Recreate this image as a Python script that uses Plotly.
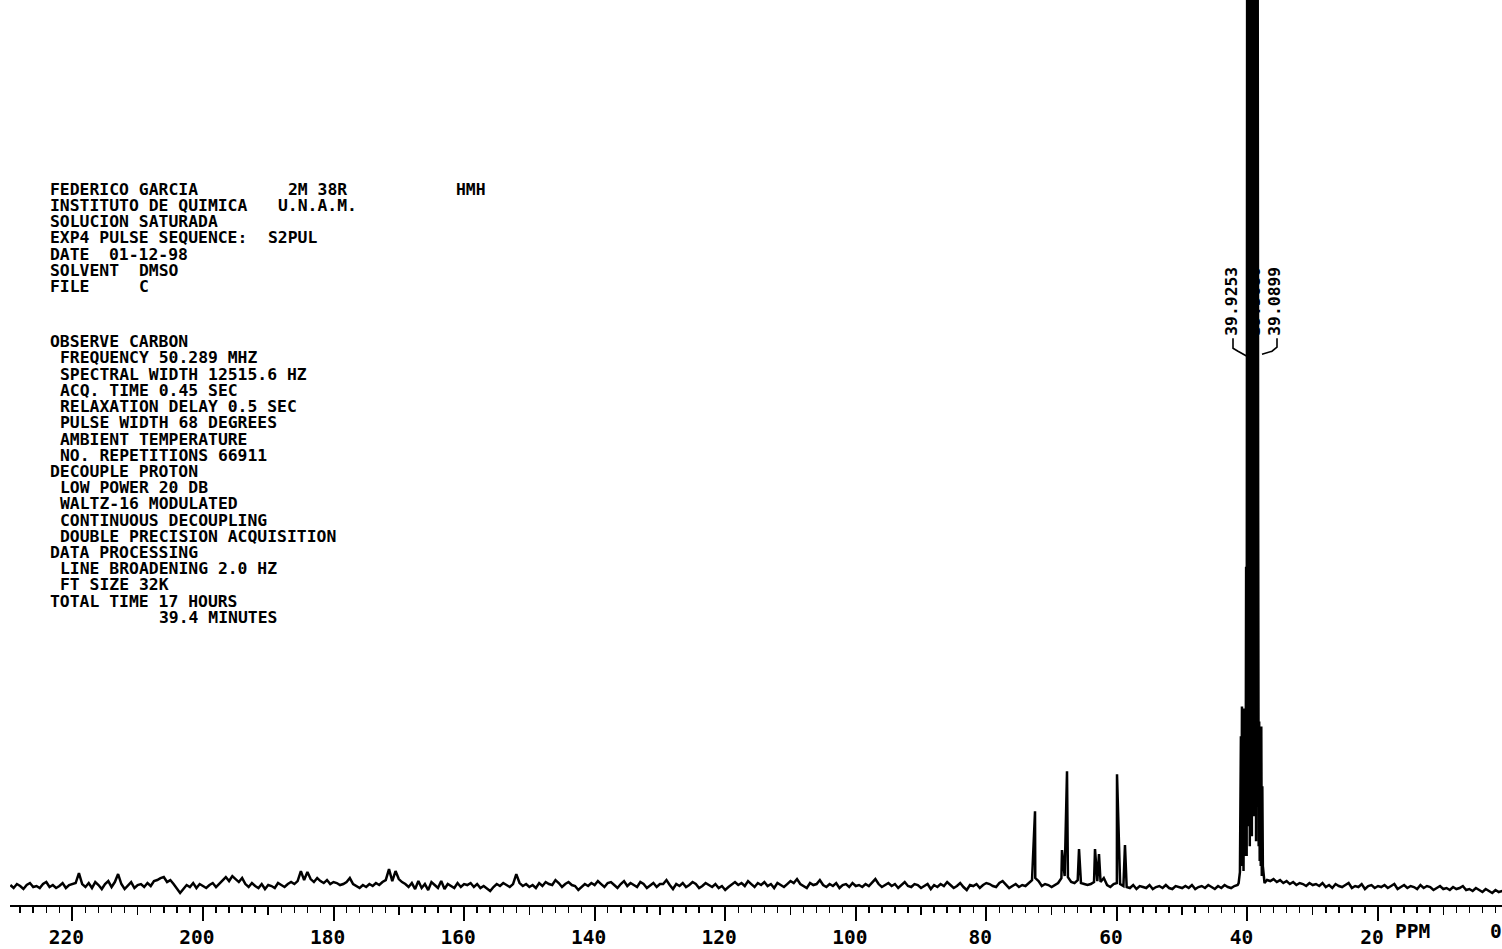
import re
import plotly.graph_objects as go

# ---------------- data ----------------
# baseline trace sampled every 0.5 ppm starting at 229.5 ppm (intensity, arbitrary units)
BASE_START = 229.5
BASE_STEP = 0.5
baseline_rows = [
    [1, -2, 2, 0, -3, 1, 3, -1, 0, -2, 2, 4, -1, 1, -2, 0, 3, -2, 1, 2],
    [3, 13, 2, -1, 3, -2, 4, 1, -3, 2, 5, -1, 4, 12, 2, -3, 1, 4, -2, 1],
    [2, -1, 3, 0, 5, 6, 8, 9, 4, 6, 2, -2, -7, -3, 1, -1, 3, -2, 2, 0],
    [-2, 1, 3, -1, 2, 6, 9, 5, 10, 7, 4, 8, 2, -1, 3, 0, -2, 2, -3, 1],
    [0, -2, 3, 1, -1, 2, 4, 2, 5, 15, 6, 14, 7, 4, 8, 5, 3, 6, 2, 4],
    [3, 1, 2, 4, 8, 2, 0, -2, 1, -1, 2, 0, 3, 1, 4, 6, 17, 5, 15, 7],
    [4, 2, -1, 3, -3, 5, -2, 2, -4, 4, 1, -2, 5, -3, 2, 0, -2, 3, -1, 2],
    [1, 3, -1, 2, -2, 0, -3, -5, -1, 2, 0, 3, 1, -1, 2, 12, 3, 0, 2, -1],
    [1, -2, 3, 0, 4, 2, 1, 6, 3, -1, 2, 4, 1, 0, -4, -1, 2, 0, 3, 1],
    [5, 2, -1, 3, 4, 1, -2, 2, 5, 0, 3, 1, -1, 4, 2, -2, 1, 3, -1, 2],
    [2, 6, 1, -3, 2, 0, 3, -1, 1, 4, 2, -2, 0, 3, 1, -1, 2, -2, 0, -4],
    [-1, 2, 4, 1, 3, 0, 5, 2, -1, 3, 1, 4, 0, 2, -2, 3, 1, -1, 2, 5],
    [3, 7, 2, 0, -2, 3, 1, 2, 6, 1, -1, 2, 0, 3, -2, 1, 2, -1, 3, 0],
    [1, -1, 2, 0, 3, 7, 2, -1, 1, 3, 0, 2, -2, 1, 4, 0, -1, 2, 1, -2],
    [0, 2, -3, 1, -1, 2, 0, 4, 1, -2, 0, 3, -1, -4, 1, 0, 2, -2, 1, 3],
    [2, 0, -1, 3, 5, 1, -2, 0, 2, -1, 1, 0, 3, 6, 8, 5, 0, 2, 1, -1],
    [1, 3, 8, 10, 9, 4, 3, 6, 3, 2, 1, 2, 4, 5, 4, 8, 1, -1, 2, 3],
    [2, 0, -1, -2, 1, -3, 0, -1, -2, 1, -3, -1, 0, -2, 1, -2, -3, 0, -1, -2],
    [0, -2, 1, -3, -1, 0, -2, 1, -1, -3, 0, -2, 1, -1, -2, 0, 1, -1, 0, 2],
    [0, 0, 0, 0, 0, 6, 5, 7, 4, 6, 3, 5, 2, 4, 1, 3, 2, 0, 3, 1],
    [2, 0, 3, -1, 1, -2, 2, 0, -1, 1, 3, -2, 0, -1, 2, -3, 0, 1, -2, 0],
    [-1, 1, -2, 0, 2, -3, -1, 1, -2, 0, -1, -3, 1, -2, 0, -1, -4, -2, 0, -3],
    [-2, -4, -1, -3, -2, 0, -4, -3, -5, -2, -4, -6, -3, -5, -7, -4, -6, -5, -7, -6],
]

# sharp sample peaks
peak_ppm = [72.54, 68.41, 67.64, 65.80, 63.35, 62.74, 59.98, 58.76]
peak_height = [75, 36, 115, 37, 37, 32, 112, 41]

# DMSO-d6 solvent multiplet: the recorder pen runs up and down (and off the top)
dmso_ppm = [41.35, 41.15, 41.00, 40.92, 40.84, 40.76, 40.68, 40.60, 40.52, 40.44,
            40.36, 40.28, 40.20, 40.12,
            40.04, 39.96, 39.88, 39.80, 39.72, 39.64, 39.56, 39.48, 39.40, 39.32,
            39.24, 39.16, 39.08, 39.00, 38.92, 38.84, 38.76, 38.68, 38.60, 38.52,
            38.44, 38.36,
            38.28, 38.20, 38.12, 38.04, 37.96, 37.88, 37.80, 37.72, 37.64, 37.52, 37.38]
dmso_height = [3, 14, 150, 20, 180, 25, 170, 15, 178, 30,
               172, 40, 320, 30,
               1000, 60, 1000, 110, 1000, 40, 1000, 90, 1000, 50,
               1000, 130, 1000, 70, 1000, 100, 1000, 45, 1000, 80,
               1000, 380,
               40, 165, 25, 150, 20, 160, 10, 100, 20, 6, 3]

peak_labels = ["39.9253", "39.5080", "39.0899"]

tick_values = [220, 200, 180, 160, 140, 120, 100, 80, 60, 40, 20]
tick_labels = ["220", "200", "180", "160", "140", "120", "100", "80", "60", "40", "20"]
mid_tick_values = [210, 190, 170, 150, 130, 110, 90, 70, 50, 30, 10]

header_lines = [
    "FEDERICO GARCIA         2M 38R           HMH",
    "INSTITUTO DE QUIMICA   U.N.A.M.",
    "SOLUCION SATURADA",
    "EXP4 PULSE SEQUENCE:  S2PUL",
    "DATE  01-12-98",
    "SOLVENT  DMSO",
    "FILE     C",
]
param_lines = [
    "OBSERVE CARBON",
    " FREQUENCY 50.289 MHZ",
    " SPECTRAL WIDTH 12515.6 HZ",
    " ACQ. TIME 0.45 SEC",
    " RELAXATION DELAY 0.5 SEC",
    " PULSE WIDTH 68 DEGREES",
    " AMBIENT TEMPERATURE",
    " NO. REPETITIONS 66911",
    "DECOUPLE PROTON",
    " LOW POWER 20 DB",
    " WALTZ-16 MODULATED",
    " CONTINUOUS DECOUPLING",
    " DOUBLE PRECISION ACQUISITION",
    "DATA PROCESSING",
    " LINE BROADENING 2.0 HZ",
    " FT SIZE 32K",
    "TOTAL TIME 17 HOURS",
    "           39.4 MINUTES",
]

# ---------------- build trace ----------------
baseline_values = [v for row in baseline_rows for v in row]
base_ppm = [BASE_START - BASE_STEP * i for i in range(len(baseline_values))]
lo, hi = min(dmso_ppm), max(dmso_ppm)
pts = [(p, v) for p, v in zip(base_ppm, baseline_values) if not (lo <= p <= hi)]
pts += list(zip(peak_ppm, peak_height))
pts += list(zip(dmso_ppm, dmso_height))
pts.sort(key=lambda t: -t[0])
spec_x = [p for p, _ in pts]
spec_y = [v for _, v in pts]

# ---------------- layout geometry ----------------
W, H = 1502, 949
ML, MR, MT, MB = 10, 0, 0, 42
PW = W - ML - MR
PH = H - MT - MB


def px_x(X):
    return (X - ML) / PW


def px_y(Y):
    return (H - MB - Y) / PH


MONO = "DejaVu Sans Mono"
FS = 16.4
PITCH = 9.9
TXT = dict(family=MONO, size=FS, color="black", weight="bold")

fig = go.Figure()
fig.add_trace(go.Scatter(x=spec_x, y=spec_y, mode="lines",
                         line=dict(color="black", width=2.5),
                         hoverinfo="skip", showlegend=False))
fig.add_trace(go.Scatter(x=[100], y=[0], xaxis="x2", mode="markers",
                         marker=dict(opacity=0), hoverinfo="skip", showlegend=False))

annotations = []


def add_line(text, top_y):
    for m in re.finditer(r"\S+(?: \S+)*", text):
        col = m.start()
        annotations.append(dict(
            text=m.group(0), xref="paper", yref="paper",
            x=px_x(50 + PITCH * col - 2), y=px_y(top_y + 7.5),
            xanchor="left", yanchor="middle", showarrow=False, font=TXT))


for i, line in enumerate(header_lines):
    add_line(line, 182 + 16.3 * i)
for j, line in enumerate(param_lines):
    add_line(line, 335 + 16.25 * j)

# peak labels (rotated)
label_px = [1231.5, 1254.5, 1274.5]
for txt, X in zip(peak_labels, label_px):
    annotations.append(dict(
        text=txt, xref="paper", yref="paper", x=px_x(X), y=px_y(302),
        textangle=-90, xanchor="center", yanchor="middle", showarrow=False, font=TXT))

AX_FONT = dict(family=MONO, size=19.5, color="black", weight="bold")
# axis extras: "PPM" after 20 and the "0" label at the right edge
annotations.append(dict(text="PPM", xref="paper", yref="paper", x=px_x(1412), y=px_y(934),
                        xanchor="center", yanchor="middle", showarrow=False, font=AX_FONT))
annotations.append(dict(text="0", xref="paper", yref="paper", x=px_x(1496), y=px_y(934),
                        xanchor="center", yanchor="middle", showarrow=False, font=AX_FONT))


def path(points):
    return "M " + " L ".join(f"{px_x(a)},{px_y(b)}" for a, b in points)


shapes = []
for pts_px in ([(1233, 339), (1233, 349), (1238, 352), (1247, 357)],
               [(1277, 339), (1277, 348), (1272, 352), (1262, 355)],
               [(1254.5, 339), (1254.5, 352)]):
    shapes.append(dict(type="path", xref="paper", yref="paper", path=path(pts_px),
                       line=dict(color="black", width=1.6)))

x_lo = 20 + (1378 - ML) / 6.528
x_hi = 20 - (W - 1378) / 6.528

fig.update_layout(
    width=W, height=H,
    margin=dict(l=ML, r=MR, t=MT, b=MB, pad=0),
    paper_bgcolor="white", plot_bgcolor="white",
    showlegend=False,
    xaxis=dict(range=[x_lo, x_hi], showgrid=False, zeroline=False,
               showline=True, linecolor="black", linewidth=2,
               tickmode="array", tickvals=tick_values, ticktext=tick_labels,
               ticks="outside", ticklen=14, tickwidth=2, tickcolor="black",
               ticklabelshift=6, ticklabelstandoff=0,
               tickfont=AX_FONT,
               minor=dict(tickmode="linear", tick0=0, dtick=2, ticks="outside",
                          ticklen=6, tickwidth=1.5, tickcolor="black", showgrid=False)),
    xaxis2=dict(overlaying="x", matches="x", anchor="y", side="bottom",
                tickmode="array", tickvals=mid_tick_values, ticks="outside",
                ticklen=9, tickwidth=1.5, tickcolor="black",
                showticklabels=False, showline=False, showgrid=False, zeroline=False),
    yaxis=dict(range=[-19, PH - 19], visible=False, fixedrange=True),
    annotations=annotations,
    shapes=shapes,
)

fig.write_html(
    "out.html",
    config={"displayModeBar": False, "staticPlot": True},
    post_script="document.documentElement.style.margin='0';"
                "document.body.style.margin='0';"
                "document.documentElement.style.overflow='hidden';"
                "document.body.style.overflow='hidden';",
)
